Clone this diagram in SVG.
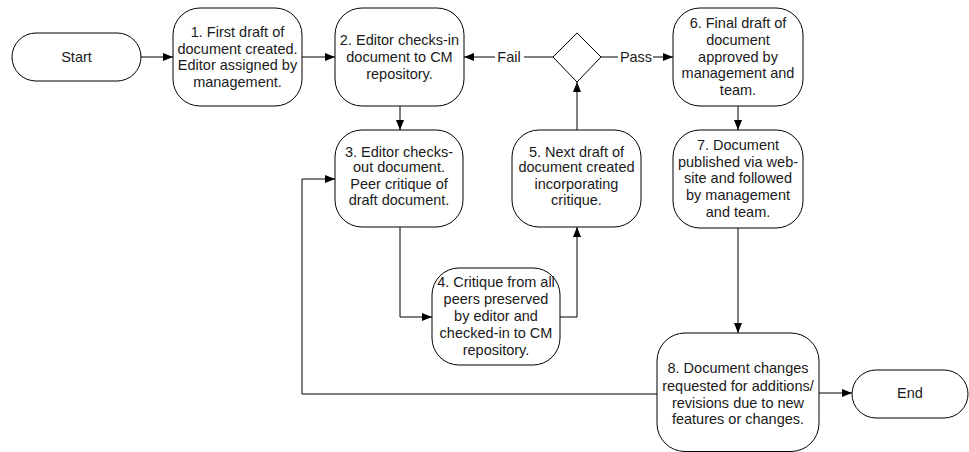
<svg xmlns="http://www.w3.org/2000/svg" width="969" height="452" viewBox="0 0 969 452">
<defs>
<marker id="arr" markerUnits="userSpaceOnUse" markerWidth="10" markerHeight="8" refX="10" refY="4" orient="auto">
<path d="M0,0 L10,4 L0,8 z" fill="#000"/>
</marker>
<style>
.box{fill:#fff;stroke:#000;stroke-width:1}
.t{font-family:"Liberation Sans",Arial,sans-serif;font-size:14.5px;fill:#1a1a1a;text-anchor:middle}
.c{fill:none;stroke:#000;stroke-width:1}
.a{marker-end:url(#arr)}
</style>
</defs>
<rect width="969" height="452" fill="#fff"/>
<g id="connectors">
<path class="c a" d="M141,57 H173"/>
<path class="c a" d="M302,57 H335"/>
<path class="c a" d="M400,106 V130"/>
<path class="c" d="M553,57 H524"/>
<path class="c a" d="M495,57 H464"/>
<path class="c" d="M601,57 H618"/>
<path class="c a" d="M653,57 H673"/>
<path class="c a" d="M577,130 V82"/>
<path class="c a" d="M400,227 V317 H432"/>
<path class="c a" d="M560,317 H577 V227"/>
<path class="c a" d="M738,106 V130"/>
<path class="c a" d="M738,228 V333"/>
<path class="c a" d="M819,393 H852"/>
<path class="c a" d="M657,394 H302 V179 H335"/>
<text class="t" x="509" y="62">Fail</text>
<text class="t" x="636" y="62">Pass</text>
</g>
<g id="start">
<rect class="box" x="12" y="33" width="129" height="48" rx="24"/>
<text class="t" x="76.5" y="62">Start</text>
</g>
<g id="node1">
<rect class="box" x="173" y="8" width="129" height="98" rx="27"/>
<text class="t" x="237.5" y="37">1. First draft of</text>
<text class="t" x="237.5" y="53.7">document created.</text>
<text class="t" x="237.5" y="70.3">Editor assigned by</text>
<text class="t" x="237.5" y="87">management.</text>
</g>
<g id="node2">
<rect class="box" x="335" y="8" width="129" height="98" rx="27"/>
<text class="t" x="399.5" y="45">2. Editor checks-in</text>
<text class="t" x="399.5" y="62">document to CM</text>
<text class="t" x="399.5" y="78.5">repository.</text>
</g>
<g id="decision">
<polygon class="box" points="577,33 601,57 577,82 553,57"/>
</g>
<g id="node6">
<rect class="box" x="673" y="8" width="130" height="98" rx="27"/>
<text class="t" x="738" y="28">6. Final draft of</text>
<text class="t" x="738" y="44.5">document</text>
<text class="t" x="738" y="61.5">approved by</text>
<text class="t" x="738" y="78">management and</text>
<text class="t" x="738" y="95">team.</text>
</g>
<g id="node3">
<rect class="box" x="335" y="130" width="128" height="97" rx="27"/>
<text class="t" x="399" y="156.5">3. Editor checks-</text>
<text class="t" x="399" y="172">out document.</text>
<text class="t" x="399" y="188.5">Peer critique of</text>
<text class="t" x="399" y="205">draft document.</text>
</g>
<g id="node5">
<rect class="box" x="512" y="130" width="129" height="97" rx="27"/>
<text class="t" x="576.5" y="156.5">5. Next draft of</text>
<text class="t" x="576.5" y="172">document created</text>
<text class="t" x="576.5" y="188.5">incorporating</text>
<text class="t" x="576.5" y="205">critique.</text>
</g>
<g id="node7">
<rect class="box" x="673" y="130" width="130" height="98" rx="27"/>
<text class="t" x="738" y="150">7. Document</text>
<text class="t" x="738" y="166.5">published via web-</text>
<text class="t" x="738" y="183">site and followed</text>
<text class="t" x="738" y="200">by management</text>
<text class="t" x="738" y="216.5">and team.</text>
</g>
<g id="node4">
<rect class="box" x="432" y="268" width="128" height="97" rx="27"/>
<text class="t" x="496" y="287">4. Critique from all</text>
<text class="t" x="496" y="304">peers preserved</text>
<text class="t" x="496" y="321">by editor and</text>
<text class="t" x="496" y="338">checked-in to CM</text>
<text class="t" x="496" y="355">repository.</text>
</g>
<g id="node8">
<rect class="box" x="657" y="333" width="162" height="118.5" rx="28"/>
<text class="t" x="738" y="373">8. Document changes</text>
<text class="t" x="738" y="390.5">requested for additions/</text>
<text class="t" x="738" y="407.5">revisions due to new</text>
<text class="t" x="738" y="424">features or changes.</text>
</g>
<g id="end">
<rect class="box" x="852" y="370" width="116" height="48" rx="24"/>
<text class="t" x="910" y="398">End</text>
</g>
</svg>
